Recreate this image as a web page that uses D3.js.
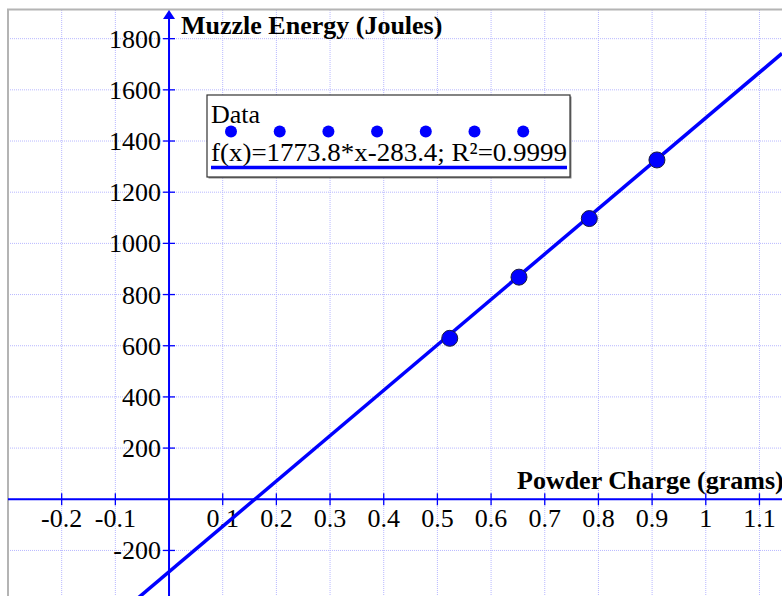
<!DOCTYPE html>
<html>
<head>
<meta charset="utf-8">
<script src="https://cdn.jsdelivr.net/npm/d3@7"></script>
<style>
  body { margin: 0; background: #fff; }
  text { font-family: "Liberation Serif", "Times New Roman", serif; }
</style>
</head>
<body>
<div id="chart-area"></div>
<script>
// data
var chargeGrams = [0.523, 0.652, 0.783, 0.909];
var energyJoules = [629, 868, 1097, 1326];
var fitSlope = 1773.8, fitIntercept = -283.4;
var xTicks = [-0.2, -0.1, 0.1, 0.2, 0.3, 0.4, 0.5, 0.6, 0.7, 0.8, 0.9, 1, 1.1];
var yTicks = [-200, 200, 400, 600, 800, 1000, 1200, 1400, 1600, 1800];
var xGrid = d3.range(-3, 12).map(d => d / 10);
var yGrid = d3.range(-200, 2000, 200);
var legendLabels = ["Data", "f(x)=1773.8*x-283.4; R²=0.9999"];

var width = 782, height = 596;
var blue = "#0000ff";
var fs = "26px";

var svg = d3.select("#chart-area")
  .append("svg")
    .attr("width", width)
    .attr("height", height);

var x = d3.scaleLinear().domain([-0.3, 1.142]).range([8, 782]);
var y = d3.scaleLinear().domain([-378, 1912]).range([596, 10]);

// grid
svg.append("g").selectAll("line")
  .data(xGrid)
  .enter().append("line")
    .attr("x1", d => x(d)).attr("x2", d => x(d))
    .attr("y1", 10).attr("y2", height)
    .attr("stroke", "#b8b8ff")
    .attr("stroke-width", 1)
    .attr("stroke-dasharray", "1,1");

svg.append("g").selectAll("line")
  .data(yGrid)
  .enter().append("line")
    .attr("x1", 8).attr("x2", width)
    .attr("y1", d => y(d)).attr("y2", d => y(d))
    .attr("stroke", "#b8b8ff")
    .attr("stroke-width", 1)
    .attr("stroke-dasharray", "1,1");

// frame (top + left)
svg.append("path")
  .attr("d", "M8," + height + "V9.5H" + width)
  .attr("fill", "none")
  .attr("stroke", "#b4b4b4")
  .attr("stroke-width", 2);

// axes through origin
var x0 = x(0), y0 = y(0);
svg.append("line")
  .attr("x1", 8).attr("x2", width)
  .attr("y1", y0).attr("y2", y0)
  .attr("stroke", blue).attr("stroke-width", 2);
svg.append("line")
  .attr("x1", x0).attr("x2", x0)
  .attr("y1", 14).attr("y2", height)
  .attr("stroke", blue).attr("stroke-width", 2);
svg.append("path")
  .attr("d", "M" + x0 + ",10 l-6,9 l12,0 z")
  .attr("fill", blue);

// ticks
svg.append("g").selectAll("line")
  .data(xTicks)
  .enter().append("line")
    .attr("x1", d => x(d)).attr("x2", d => x(d))
    .attr("y1", y0 - 6).attr("y2", y0 + 6)
    .attr("stroke", blue).attr("stroke-width", 1.3);
svg.append("g").selectAll("line")
  .data(yTicks)
  .enter().append("line")
    .attr("x1", x0 - 6).attr("x2", x0 + 6)
    .attr("y1", d => y(d)).attr("y2", d => y(d))
    .attr("stroke", blue).attr("stroke-width", 1.3);

// tick labels
svg.append("g").selectAll("text")
  .data(xTicks)
  .enter().append("text")
    .attr("x", d => x(d))
    .attr("y", y0 + 28)
    .attr("text-anchor", "middle")
    .attr("font-size", fs)
    .attr("fill", "#000")
    .text(d => String(d));
svg.append("g").selectAll("text")
  .data(yTicks)
  .enter().append("text")
    .attr("x", x0 - 8)
    .attr("y", d => y(d) + 9)
    .attr("text-anchor", "end")
    .attr("font-size", fs)
    .attr("fill", "#000")
    .text(d => String(d));

// axis titles
svg.append("text")
  .attr("x", 181)
  .attr("y", 34)
  .attr("font-size", fs)
  .attr("font-weight", "bold")
  .text("Muzzle Energy (Joules)");
svg.append("text")
  .attr("x", 517)
  .attr("y", 489)
  .attr("font-size", fs)
  .attr("font-weight", "bold")
  .text("Powder Charge (grams)");

// fit line
var fitX = [x.domain()[0], x.domain()[1]];
svg.append("line")
  .attr("x1", x(fitX[0])).attr("y1", y(fitSlope * fitX[0] + fitIntercept))
  .attr("x2", x(fitX[1])).attr("y2", y(fitSlope * fitX[1] + fitIntercept))
  .attr("stroke", blue)
  .attr("stroke-width", 3.5);

// data points
svg.append("g").selectAll("circle")
  .data(chargeGrams)
  .enter().append("circle")
    .attr("cx", d => x(d))
    .attr("cy", (d, i) => y(energyJoules[i]))
    .attr("r", 8)
    .attr("fill", blue)
    .attr("stroke", "#1a1a40")
    .attr("stroke-width", 1);

// legend
var lg = svg.append("g").attr("transform", "translate(207,95)");
lg.append("rect")
  .attr("x", 1.5).attr("y", 1.5)
  .attr("width", 363).attr("height", 82)
  .attr("fill", "#888");
lg.append("rect")
  .attr("width", 363).attr("height", 82)
  .attr("fill", "#fff")
  .attr("stroke", "#333")
  .attr("stroke-width", 1.2);
lg.append("text")
  .attr("x", 4).attr("y", 28)
  .attr("font-size", fs)
  .text(legendLabels[0]);
lg.append("g").selectAll("circle")
  .data(d3.range(7))
  .enter().append("circle")
    .attr("cx", d => 24 + d * 48.7)
    .attr("cy", 36.5)
    .attr("r", 6)
    .attr("fill", blue);
lg.append("text")
  .attr("x", 4).attr("y", 66)
  .attr("font-size", fs)
  .attr("textLength", 356)
  .attr("lengthAdjust", "spacingAndGlyphs")
  .text(legendLabels[1]);
lg.append("line")
  .attr("x1", 4).attr("x2", 360)
  .attr("y1", 72.5).attr("y2", 72.5)
  .attr("stroke", blue)
  .attr("stroke-width", 3.5);
</script>
</body>
</html>
